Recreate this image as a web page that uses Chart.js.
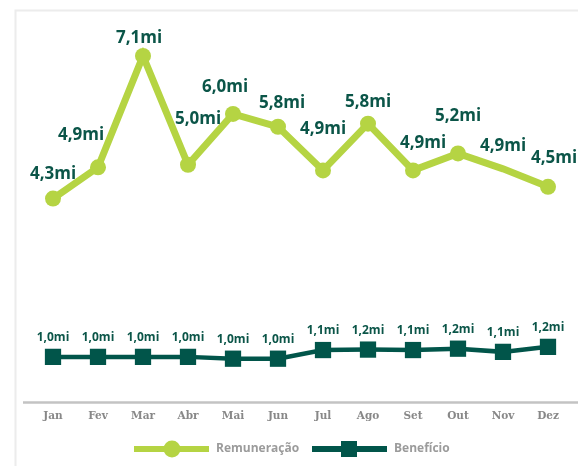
<!DOCTYPE html>
<html>
<head>
<meta charset="utf-8">
<script src="https://cdn.jsdelivr.net/npm/chart.js@4"></script>
<style>
    html, body { margin: 0; padding: 0; background: #fff; }
    #wrap { width: 578px; height: 466px; position: relative; }
</style>
</head>
<body>
<div id="wrap"><canvas id="lineChart"></canvas></div>
<script>
// Chart data
const months = ['Jan', 'Fev', 'Mar', 'Abr', 'Mai', 'Jun', 'Jul', 'Ago', 'Set', 'Out', 'Nov', 'Dez'];
const remuneracao = [4.32, 4.93, 7.1, 4.98, 5.97, 5.72, 4.87, 5.78, 4.87, 5.2, 4.9, 4.55];
const beneficio = [1.0, 1.0, 1.0, 1.0, 0.96, 0.96, 1.15, 1.16, 1.15, 1.18, 1.11, 1.22];
const remLabels = ['4,3mi', '4,9mi', '7,1mi', '5,0mi', '6,0mi', '5,8mi', '4,9mi', '5,8mi', '4,9mi', '5,2mi', '4,9mi', '4,5mi'];
const benLabels = ['1,0mi', '1,0mi', '1,0mi', '1,0mi', '1,0mi', '1,0mi', '1,1mi', '1,2mi', '1,1mi', '1,2mi', '1,1mi', '1,2mi'];

const LIME = '#b5d443';
const TEAL = '#01554a';
const LABEL_COLOR = '#0b5548';

// label nudges (dx, dy from the point), the original has hand-placed labels
const remNudge = [[0, -24], [-17, -32], [-4, -18], [10, -46], [-8, -27], [4, -24],
                  [0, -41], [0, -22], [10, -27], [0, -37], [0, -23], [6, -29]];

// Frame, axis line, value labels and legend
const decorPlugin = {
    id: 'decor',
    beforeDraw(chart) {
        const { ctx, width, height, chartArea } = chart;
        ctx.save();
        ctx.strokeStyle = '#ececec';
        ctx.lineWidth = 2;
        ctx.beginPath();
        ctx.moveTo(15.5, height);
        ctx.lineTo(15.5, 10.5);
        ctx.lineTo(width, 10.5);
        ctx.stroke();
        ctx.strokeStyle = '#c3c3c3';
        ctx.lineWidth = 2.5;
        ctx.beginPath();
        ctx.moveTo(23, chartArea.bottom);
        ctx.lineTo(width, chartArea.bottom);
        ctx.stroke();
        ctx.restore();
    },
    afterDatasetsDraw(chart) {
        const { ctx } = chart;
        ctx.save();
        ctx.fillStyle = LABEL_COLOR;
        ctx.textAlign = 'center';
        ctx.textBaseline = 'middle';
        ctx.font = 'bold 17px "Open Sans"';
        chart.getDatasetMeta(0).data.forEach((pt, i) => {
            ctx.fillText(remLabels[i], pt.x + remNudge[i][0], pt.y + remNudge[i][1]);
        });
        ctx.font = 'bold 12px "Open Sans"';
        chart.getDatasetMeta(1).data.forEach((pt, i) => {
            ctx.fillText(benLabels[i], pt.x, pt.y - 19);
        });
        ctx.restore();
    },
    afterDraw(chart) {
        const { ctx } = chart;
        const y = 449;
        ctx.save();
        ctx.lineCap = 'butt';
        // Remuneração
        ctx.strokeStyle = LIME;
        ctx.lineWidth = 6;
        ctx.beginPath(); ctx.moveTo(134, y); ctx.lineTo(209, y); ctx.stroke();
        ctx.fillStyle = LIME;
        ctx.beginPath(); ctx.arc(172, y, 8.5, 0, Math.PI * 2); ctx.fill();
        // Benefício
        ctx.strokeStyle = TEAL;
        ctx.beginPath(); ctx.moveTo(312, y); ctx.lineTo(387, y); ctx.stroke();
        ctx.fillStyle = TEAL;
        ctx.fillRect(341, y - 8, 16, 16);
        ctx.fillStyle = '#9b9b9b';
        ctx.font = 'bold 12px "Open Sans"';
        ctx.textBaseline = 'middle';
        ctx.textAlign = 'left';
        ctx.fillText('Remuneração', 216, y);
        ctx.fillText('Benefício', 394, y);
        ctx.restore();
    }
};

const chart = new Chart(document.getElementById('lineChart'), {
    type: 'line',
    data: {
        labels: months,
        datasets: [
            {
                label: 'Remuneração',
                data: remuneracao,
                borderColor: LIME,
                backgroundColor: LIME,
                borderWidth: 7,
                pointRadius: remuneracao.map((v, i) => i === 10 ? 0 : 8),
                pointHoverRadius: 8,
                pointBorderWidth: 0,
                pointStyle: 'circle',
                tension: 0,
                clip: false,
                yAxisID: 'y'
            },
            {
                label: 'Benefício',
                data: beneficio,
                borderColor: TEAL,
                backgroundColor: TEAL,
                borderWidth: 4.5,
                pointRadius: 11.5,
                pointBorderWidth: 0,
                pointStyle: 'rect',
                tension: 0,
                clip: false,
                yAxisID: 'y2'
            }
        ]
    },
    options: {
        responsive: true,
        maintainAspectRatio: false,
        animation: false,
        layout: { autoPadding: false, padding: { top: 20, left: 30.5, right: 7.5, bottom: 43 } },
        plugins: {
            legend: { display: false },
            tooltip: { enabled: false }
        },
        scales: {
            x: {
                offset: true,
                grid: { display: false },
                border: { display: false },
                ticks: {
                    color: '#888888',
                    padding: 0,
                    maxRotation: 0,
                    font: { family: 'DejaVu Serif', weight: 'bold', size: 10.5 }
                }
            },
            y: { display: false, min: 0.35, max: 7.8 },
            y2: { display: false, min: 0, max: 8.4 }
        }
    },
    plugins: [decorPlugin]
});
</script>
</body>
</html>
